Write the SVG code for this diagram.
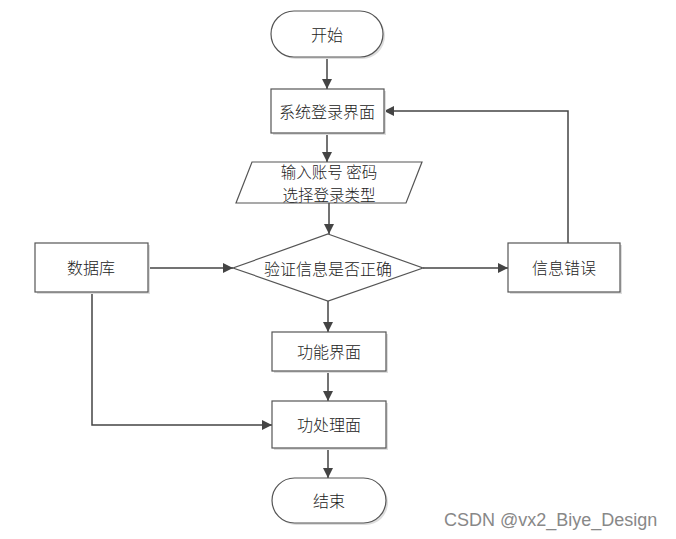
<svg xmlns="http://www.w3.org/2000/svg" width="676" height="539" viewBox="0 0 676 539">
<style>
.s{fill:#fff;stroke:#555;stroke-width:1.2}
.sh{fill:#ddd;stroke:none}
.t{font-family:"Noto Sans CJK SC","Liberation Sans",sans-serif;font-size:16px;font-weight:300;fill:#222;text-anchor:middle;dominant-baseline:central}
.c{fill:none;stroke:#444;stroke-width:1.5}
.w{font-family:"Liberation Sans",sans-serif;font-size:18px;fill:#888}
</style>
<defs>
<marker id="a" viewBox="0 0 10 10" refX="10" refY="5" markerWidth="10" markerHeight="10" markerUnits="userSpaceOnUse" orient="auto">
<path d="M0,0 L10,5 L0,10 Z" fill="#444"/>
</marker>
</defs>
<rect width="676" height="539" fill="#fff"/>
<g id="connectors">
<path class="c" d="M327,57 V89" marker-end="url(#a)"/>
<path class="c" d="M327,133 V162" marker-end="url(#a)"/>
<path class="c" d="M329,203 V234" marker-end="url(#a)"/>
<path class="c" d="M328,301 V332" marker-end="url(#a)"/>
<path class="c" d="M328,371 V401" marker-end="url(#a)"/>
<path class="c" d="M328,448 V478" marker-end="url(#a)"/>
<path class="c" d="M148,268 H233" marker-end="url(#a)"/>
<path class="c" d="M423,268 H508" marker-end="url(#a)"/>
<path class="c" d="M568,243 V111 H384" marker-end="url(#a)"/>
<path class="c" d="M92,292 V425 H272" marker-end="url(#a)"/>
</g>
<g id="start">
<rect class="sh" x="273" y="13" width="112" height="46" rx="23"/>
<rect class="s" x="271" y="11" width="112" height="46" rx="23"/>
<text class="t" x="327" y="34">开始</text>
</g>
<g id="login">
<rect class="sh" x="273" y="91" width="113" height="44"/>
<rect class="s" x="271" y="89" width="113" height="44"/>
<text class="t" x="327" y="111">系统登录界面</text>
</g>
<g id="input">
<polygon class="s" points="252,162 422,162 406,203 236,203"/>
<text class="t" x="329" y="171" style="font-size:15.5px">输入账号 密码</text>
<text class="t" x="329" y="194" style="font-size:15.5px">选择登录类型</text>
</g>
<g id="verify">
<polygon class="s" points="328,234 423,268 328,301 233,268"/>
<text class="t" x="328" y="268">验证信息是否正确</text>
</g>
<g id="db">
<rect class="sh" x="37" y="245" width="113" height="49"/>
<rect class="s" x="35" y="243" width="113" height="49"/>
<text class="t" x="91" y="267">数据库</text>
</g>
<g id="err">
<rect class="sh" x="510" y="245" width="112" height="49"/>
<rect class="s" x="508" y="243" width="112" height="49"/>
<text class="t" x="564" y="267">信息错误</text>
</g>
<g id="func">
<rect class="sh" x="274" y="334" width="114" height="39"/>
<rect class="s" x="272" y="332" width="114" height="39"/>
<text class="t" x="329" y="351">功能界面</text>
</g>
<g id="proc">
<rect class="sh" x="274" y="403" width="114" height="47"/>
<rect class="s" x="272" y="401" width="114" height="47"/>
<text class="t" x="329" y="424">功处理面</text>
</g>
<g id="end">
<rect class="sh" x="274" y="480" width="114" height="45" rx="22.5"/>
<rect class="s" x="272" y="478" width="114" height="45" rx="22.5"/>
<text class="t" x="329" y="500">结束</text>
</g>
<text class="w" x="444" y="526">CSDN @vx2_Biye_Design</text>
</svg>
